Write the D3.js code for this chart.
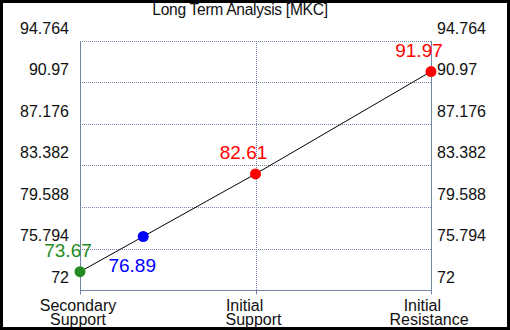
<!DOCTYPE html>
<html>
<head>
<meta charset="utf-8">
<script src="https://cdn.jsdelivr.net/npm/d3@7"></script>
<style>
  html, body { margin: 0; padding: 0; background: #000; }
  svg { display: block; font-family: "Liberation Sans", Arial, sans-serif; }
</style>
</head>
<body>
<svg id="chart" width="510" height="330"></svg>
<script>
// values
const categories = ["Secondary Support", "Initial Support", "Initial Resistance"];
const categoryLines = [["Secondary", "Support"], ["Initial\u00a0\u00a0\u00a0\u00a0", "Support"], ["Initial\u00a0\u00a0\u00a0", "Resistance"]];
const levels = [73.67, 82.61, 91.97];
const levelColors = ["#228b22", "#ff0000", "#ff0000"];
const currentPrice = 76.89;
const yTicks = [72, 75.794, 79.588, 83.382, 87.176, 90.97, 94.764];
const title = "Long Term Analysis [MKC]";

const W = 510, H = 330;
const M = { top: 41, right: 79, bottom: 40, left: 80 };
const axisColor = "#7484a4";

const svg = d3.select("#chart");
svg.append("rect").attr("x", 3).attr("y", 3).attr("width", W - 6).attr("height", H - 6).attr("fill", "#fff");

const x = d3.scalePoint().domain(categories).range([M.left, W - M.right]);
const y = d3.scaleLinear().domain([yTicks[0], yTicks[yTicks.length - 1]]).range([H - M.bottom, M.top]);

// grid
svg.append("g").selectAll("line").data(yTicks).join("line")
  .attr("x1", M.left).attr("x2", W - M.right)
  .attr("y1", d => Math.round(y(d)) + 0.5).attr("y2", d => Math.round(y(d)) + 0.5)
  .attr("stroke", axisColor).attr("stroke-dasharray", "1 1");
svg.append("g").selectAll("line").data(categories).join("line")
  .attr("x1", d => Math.round(x(d)) + 0.5).attr("x2", d => Math.round(x(d)) + 0.5)
  .attr("y1", M.top).attr("y2", H - M.bottom)
  .attr("stroke", axisColor).attr("stroke-dasharray", "1 1");

// axes frame (left, right, bottom)
const fx0 = M.left + 0.5, fx1 = Math.round(W - M.right) + 0.5, fy = Math.round(H - M.bottom) + 0.5;
svg.append("path")
  .attr("d", `M${fx0},${M.top}V${fy}H${fx1}V${M.top}`)
  .attr("fill", "none").attr("stroke", axisColor);
svg.append("g").selectAll("line").data(categories).join("line")
  .attr("x1", d => Math.round(x(d)) + 0.5).attr("x2", d => Math.round(x(d)) + 0.5)
  .attr("y1", fy).attr("y2", fy + 4)
  .attr("stroke", axisColor);

// tick labels on both sides
const tickFmt = d => String(d);
svg.append("g").selectAll("text").data(yTicks).join("text")
  .attr("x", M.left - 11).attr("y", d => y(d) - 7.5)
  .attr("text-anchor", "end").attr("font-size", 16).attr("fill", "#111")
  .text(tickFmt);
svg.append("g").selectAll("text").data(yTicks).join("text")
  .attr("x", W - M.right + 6).attr("y", d => y(d) - 7.5)
  .attr("font-size", 16).attr("fill", "#111")
  .text(tickFmt);

// category labels
const cat = svg.append("g").selectAll("text").data(categories).join("text")
  .attr("text-anchor", "middle").attr("font-size", 16).attr("fill", "#111")
  .style("white-space", "pre");
cat.each(function (d, i) {
  d3.select(this).selectAll("tspan").data(categoryLines[i]).join("tspan")
    .attr("x", x(d) - 2).attr("y", (t, j) => 311 + j * 14)
    .text(t => t);
});

// title
svg.append("text").attr("x", 240).attr("y", 15)
  .attr("text-anchor", "middle").attr("font-size", 15.6).attr("fill", "#111")
  .attr("letter-spacing", -0.3)
  .text(title);

// line through the levels
const pts = categories.map((c, i) => [x(c), y(levels[i])]);
svg.append("path")
  .attr("d", d3.line()(pts))
  .attr("fill", "none").attr("stroke", "#000").attr("stroke-width", 1);

// current price sits on the first segment
const t = (currentPrice - levels[0]) / (levels[1] - levels[0]);
const cx = x(categories[0]) + t * (x(categories[1]) - x(categories[0]));

svg.append("g").selectAll("circle").data(levels).join("circle")
  .attr("cx", (d, i) => x(categories[i])).attr("cy", d => y(d))
  .attr("r", 5.5).attr("fill", (d, i) => levelColors[i]);
svg.append("g").selectAll("text").data(levels).join("text")
  .attr("x", (d, i) => x(categories[i]) - 12).attr("y", d => y(d) - 15)
  .attr("text-anchor", "middle").attr("font-size", 19)
  .attr("fill", (d, i) => levelColors[i])
  .text(d => d.toFixed(2));

svg.append("circle").attr("cx", cx).attr("cy", y(currentPrice))
  .attr("r", 5.5).attr("fill", "#0000ff");
svg.append("text").attr("x", cx - 11).attr("y", y(currentPrice) + 35)
  .attr("text-anchor", "middle").attr("font-size", 19).attr("fill", "#0000ff")
  .text(currentPrice.toFixed(2));
</script>
</body>
</html>
